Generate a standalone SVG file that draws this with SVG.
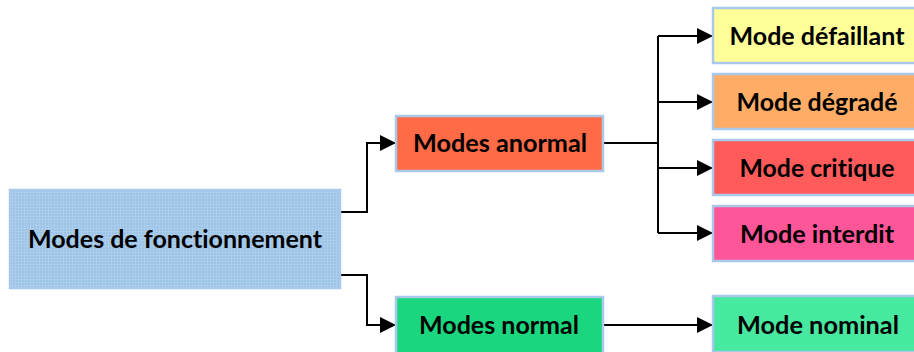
<svg xmlns="http://www.w3.org/2000/svg" width="914" height="352" viewBox="0 0 914 352">
<style>
.box{stroke:#a9c8ea;stroke-width:2.5}
.t{font-family:Lato,"Liberation Sans",sans-serif;font-weight:bold;font-size:24px;fill:#000;text-anchor:middle;font-variant-ligatures:none}
.c{fill:none;stroke:#000;stroke-width:2}
</style>
<defs>
<marker id="ah" markerUnits="userSpaceOnUse" markerWidth="16" markerHeight="18" refX="16" refY="9" orient="auto">
<path d="M0,1 L16,9 L0,17 Z" fill="#000"/>
</marker>
<pattern id="grid" width="3" height="3" patternUnits="userSpaceOnUse">
<rect width="3" height="3" fill="#9dc3e6"/>
<path d="M0,0.5 H3 M0.5,0 V3" stroke="#b3d1ee" stroke-width="0.6"/>
</pattern>
</defs>
<rect width="914" height="352" fill="#fff"/>
<g id="connectors">
<path class="c" d="M340,212 H367 V143 H396" marker-end="url(#ah)"/>
<path class="c" d="M340,275 H367 V325 H396" marker-end="url(#ah)"/>
<path class="c" d="M603,143 H658"/>
<path class="c" d="M658,36 V233"/>
<path class="c" d="M658,36 H713" marker-end="url(#ah)"/>
<path class="c" d="M658,102 H713" marker-end="url(#ah)"/>
<path class="c" d="M658,168 H713" marker-end="url(#ah)"/>
<path class="c" d="M658,233 H713" marker-end="url(#ah)"/>
<path class="c" d="M603,325 H713" marker-end="url(#ah)"/>
</g>
<g id="n-fonctionnement">
<rect class="box" x="10" y="190" width="330" height="98" fill="url(#grid)" stroke="#b4d0ee"/>
<text class="t" x="175" y="248" textLength="294" lengthAdjust="spacingAndGlyphs">Modes de fonctionnement</text>
</g>
<g id="n-anormal">
<rect class="box" x="396" y="116" width="207" height="55" fill="#ff6a47"/>
<text class="t" x="500" y="152" textLength="174" lengthAdjust="spacingAndGlyphs">Modes anormal</text>
</g>
<g id="n-normal">
<rect class="box" x="396" y="297" width="207" height="57" fill="#1ad77f"/>
<text class="t" x="499" y="334" textLength="160" lengthAdjust="spacingAndGlyphs">Modes normal</text>
</g>
<g id="n-defaillant">
<rect class="box" x="713" y="8" width="208" height="55" fill="#ffff99"/>
<text class="t" x="817" y="45" textLength="175" lengthAdjust="spacingAndGlyphs">Mode défaillant</text>
</g>
<g id="n-degrade">
<rect class="box" x="713" y="74" width="208" height="55" fill="#ffad66"/>
<text class="t" x="817" y="111" textLength="161" lengthAdjust="spacingAndGlyphs">Mode dégradé</text>
</g>
<g id="n-critique">
<rect class="box" x="713" y="140" width="208" height="55" fill="#ff5b5b"/>
<text class="t" x="817" y="177" textLength="155" lengthAdjust="spacingAndGlyphs">Mode critique</text>
</g>
<g id="n-interdit">
<rect class="box" x="713" y="206" width="208" height="55" fill="#ff5599"/>
<text class="t" x="817" y="243" textLength="154" lengthAdjust="spacingAndGlyphs">Mode interdit</text>
</g>
<g id="n-nominal">
<rect class="box" x="713" y="296" width="208" height="56" fill="#47e8a0"/>
<text class="t" x="818" y="334" textLength="162" lengthAdjust="spacingAndGlyphs">Mode nominal</text>
</g>
</svg>
